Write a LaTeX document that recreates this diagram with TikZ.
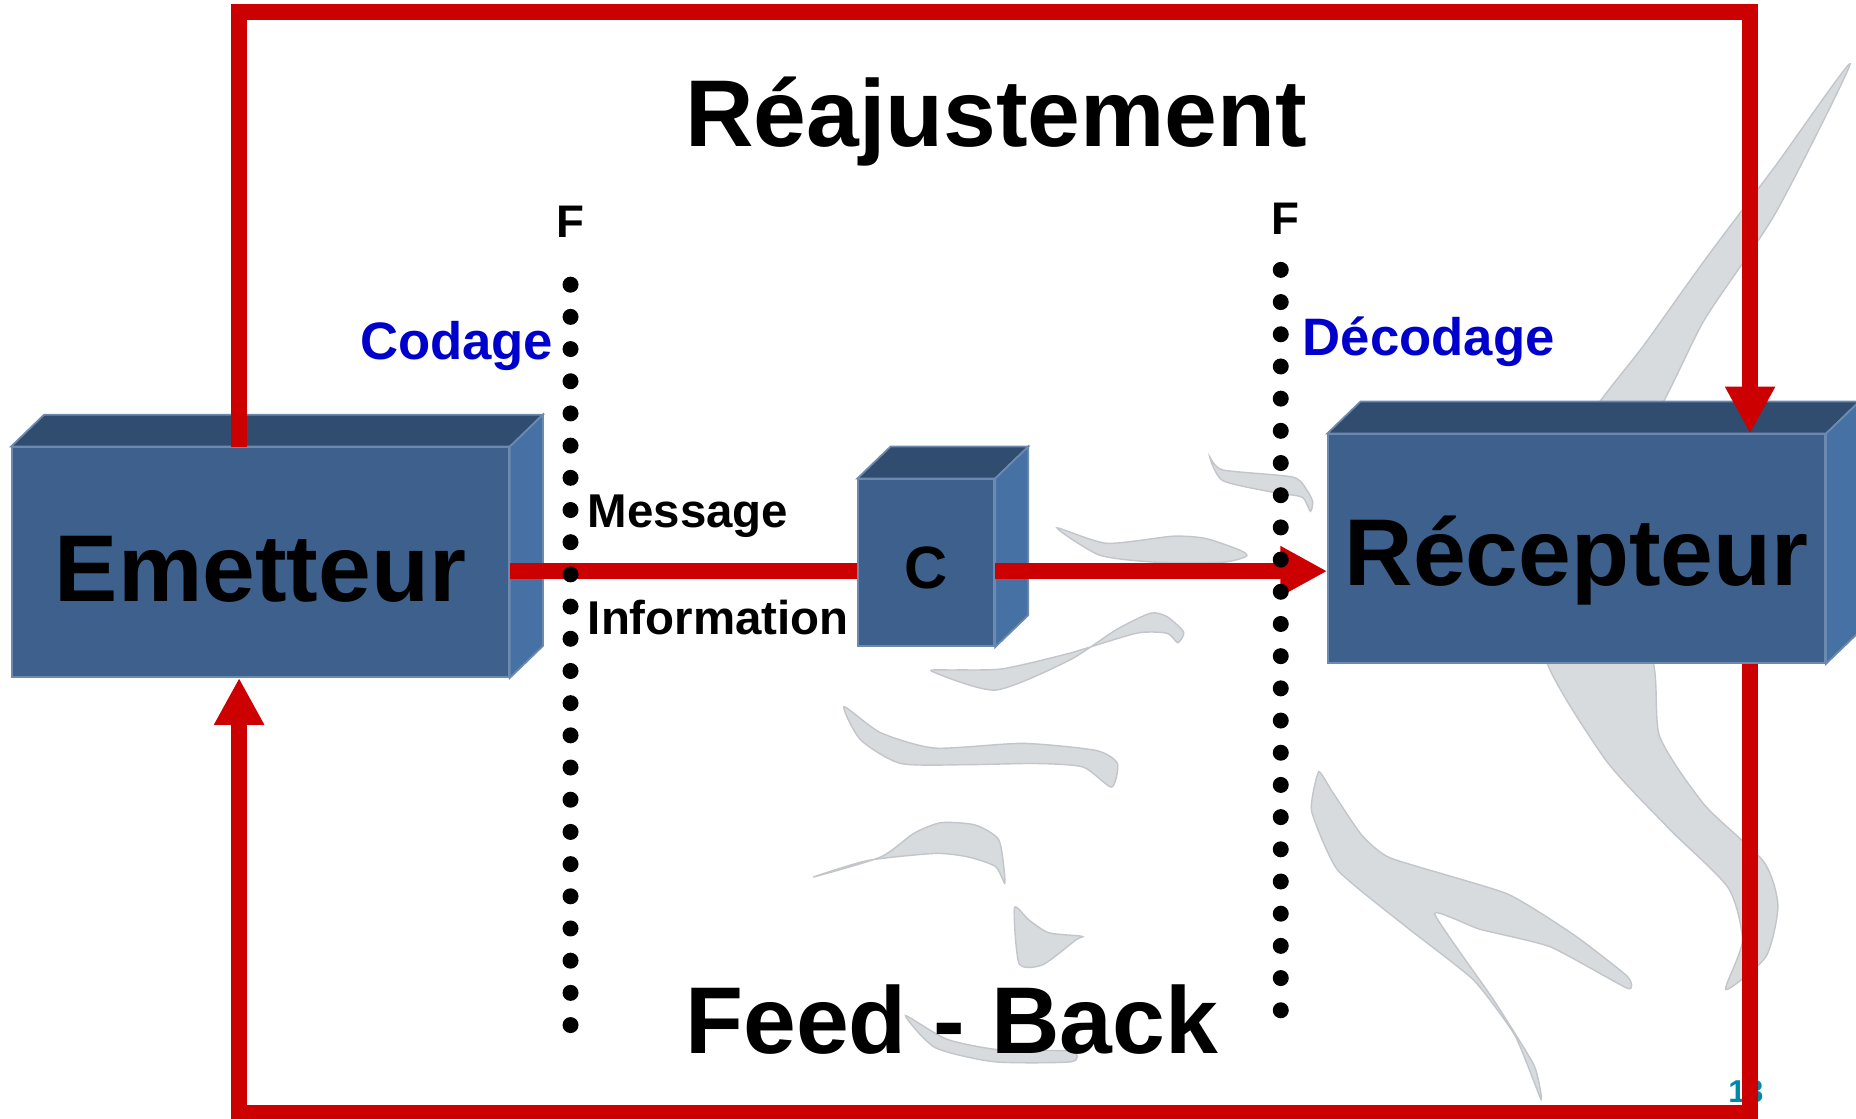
\documentclass[tikz,border=0pt]{standalone}
\usepackage{fontspec}
\setmainfont{Liberation Sans}
\usetikzlibrary{arrows.meta,calc}
\definecolor{boxfront}{HTML}{3D618C}
\definecolor{boxtop}{HTML}{304D70}
\definecolor{boxside}{HTML}{4671A5}
\definecolor{boxedge}{HTML}{6C8AB0}
\definecolor{redc}{HTML}{CC0000}
\definecolor{bluec}{HTML}{0000CC}
\definecolor{tealc}{HTML}{0088AA}
\definecolor{swfill}{HTML}{D8DBDE}
\definecolor{swedge}{HTML}{C2C6CA}
\begin{document}
\begin{tikzpicture}[x=0.011837cm, y=-0.011837cm,
  boxface/.style={fill=boxfront, draw=boxedge, line width=0.5pt, inner sep=0pt, text=black},
  bigtext/.style={font=\bfseries\fontsize{27}{32}\selectfont},
  topface/.style={fill=boxtop, draw=boxedge, line width=0.5pt},
  sideface/.style={fill=boxside, draw=boxedge, line width=0.5pt},
  redline/.style={draw=redc, line width=4.4pt},
  redarrow/.style={redline, -{Triangle[width=0.47cm,length=0.47cm]}},
  dotline/.style={line width=0.16cm, line cap=round, dash pattern=on 0pt off 0.322cm},
  swoosh/.style={fill=swfill, draw=swedge, line width=0.4pt},
  bluelabel/.style={text=bluec, font=\bfseries\fontsize{15}{18}\selectfont, inner sep=0pt},
  smalllabel/.style={font=\bfseries\fontsize{13.5}{16}\selectfont, inner sep=0pt},
  flabel/.style={font=\bfseries\fontsize{13}{16}\selectfont, inner sep=0pt},
]
\useasboundingbox (0,0) rectangle (1568,945);
\fill[white] (0,0) rectangle (1568,945);

% background swooshes
\filldraw[swoosh] plot[smooth cycle, tension=0.4] coordinates {(1563,54) (1500,140) (1440,220) (1390,290) (1339,360) (1392,360) (1440,270) (1500,180)};
\filldraw[swoosh] plot[smooth cycle, tension=0.4] coordinates {(1305,550) (1355,640) (1410,700) (1460,750) (1472,795) (1458,836) (1492,808) (1502,765) (1490,728) (1440,680) (1402,622) (1392,550)};
\filldraw[swoosh] plot[smooth cycle, tension=0.3] coordinates {(1114,652) (1108,685) (1130,735) (1188,783) (1245,828) (1280,875) (1302,929) (1296,900) (1262,845) (1212,772) (1250,785) (1310,800) (1375,835) (1375,825) (1330,790) (1273,755) (1175,725) (1150,705) (1125,668)};
\filldraw[swoosh] plot[smooth cycle, tension=0.4] coordinates {(893,446) (935,459) (991,453) (1019,455) (1048,465) (1053,470) (1033,475) (977,475) (929,469)};
\filldraw[swoosh] plot[smooth cycle, tension=0.4] coordinates {(1022,386) (1033,397) (1092,403) (1104,414) (1109,424) (1107,432) (1100,420) (1076,416) (1033,406)};
\filldraw[swoosh] plot[smooth cycle, tension=0.4] coordinates {(787,567) (841,583) (903,558) (943,532) (972,518) (986,521) (1000,534) (995,543) (986,535) (960,535) (903,552) (847,565) (807,566)};
\filldraw[swoosh] plot[smooth cycle, tension=0.4] coordinates {(713,597) (727,625) (761,645) (818,646) (875,645) (915,648) (939,665) (944,645) (926,634) (864,628) (790,632) (744,619)};
\filldraw[swoosh] plot[smooth cycle, tension=0.4] coordinates {(687,741) (744,724) (772,704) (795,695) (824,697) (844,710) (849,746) (841,732) (818,724) (790,721) (733,727)};
\filldraw[swoosh] plot[smooth cycle, tension=0.4] coordinates {(857,767) (869,777) (886,788) (914,791) (909,794) (881,815) (861,814)};
\filldraw[swoosh] plot[smooth cycle, tension=0.4] coordinates {(765,858) (790,885) (840,897) (905,897) (905,888) (845,887) (800,878)};

% boxes
\node[boxface, bigtext, minimum width=4.972cm, minimum height=2.296cm, text height=22.2pt, text depth=0pt] (emet) at (220,475) {Emetteur};
\node[boxface, bigtext, minimum width=4.972cm, minimum height=2.285cm, text height=21.2pt, text depth=0pt] (recep) at (1332,463.5) {Récepteur\hspace{0.16cm}};
\node[boxface, font=\bfseries\fontsize{17}{20}\selectfont, minimum width=1.361cm, minimum height=1.669cm, text height=14.4pt, text depth=0pt] (cbox) at (782.5,475.5) {C};
\foreach \n in {emet,recep,cbox} {
  \filldraw[topface] (\n.north west) -- ++(28,-27) -- ($(\n.north east)+(28,-27)$) -- (\n.north east) -- cycle;
  \filldraw[sideface] (\n.north east) -- ++(28,-27) -- ($(\n.south east)+(28,-27)$) -- (\n.south east) -- cycle;
}

% page number
\node[text=tealc, font=\bfseries\fontsize{9}{11}\selectfont, inner sep=0pt] (pnum) at (1475,922) {13};

% red connectors
\coordinate (tl) at (202,10);
\coordinate (tr) at (1478.5,10);
\coordinate (bl) at (202,940);
\coordinate (br) at (1478.5,940);
\coordinate (mid) at (600,482.5);
\draw[redarrow] (emet.north -| tl) -- (tl) -- (tr) -- (recep.north -| tr);
\draw[redarrow] (recep.south -| br) -- (br) -- (bl) -- (emet.south -| bl);
\draw[redline] (emet.east |- mid) -- (cbox.west |- mid);
\draw[redarrow] (cbox.east |- mid) -- (recep.west |- mid);

% dotted frontiers
\coordinate (fla) at (482,240.5);
\coordinate (flb) at (482,868);
\coordinate (fra) at (1082,228);
\coordinate (frb) at (1082,856);
\draw[dotline] (fla) -- (flb);
\draw[dotline] (fra) -- (frb);

% labels
\node[flabel, anchor=base] (fl) at (482,201) {F};
\node[flabel, anchor=base] (fr) at (1086,198) {F};
\node[bluelabel, anchor=base east] (cod) at (468,304) {Codage};
\node[bluelabel, anchor=base west] (dec) at (1100,300) {Décodage};
\node[smalllabel, anchor=base west] (msg) at (496,446) {Message};
\node[smalllabel, anchor=base west] (inf) at (496,536) {Information};
\node[bigtext, anchor=base, inner sep=0pt] (reaj) at (841.5,124) {Réajustement};
\node[bigtext, anchor=base, inner sep=0pt] (fb) at (804,890) {Feed - Back};
\end{tikzpicture}
\end{document}
